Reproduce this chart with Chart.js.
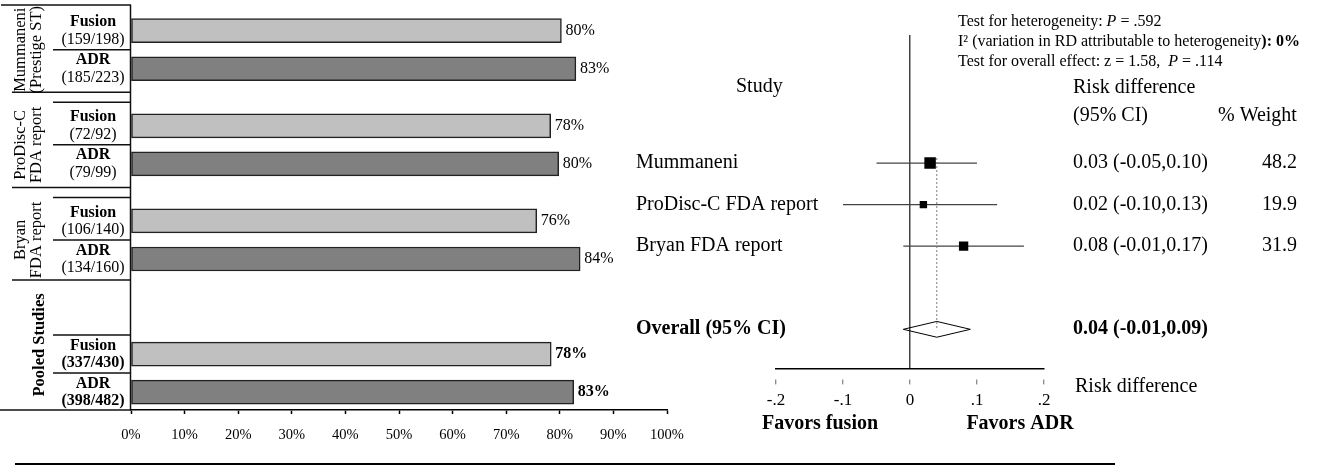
<!DOCTYPE html>
<html>
<head>
<meta charset="utf-8">
<script src="https://cdn.jsdelivr.net/npm/chart.js@4.4.1/dist/chart.umd.min.js"></script>
<style>
  html, body { margin: 0; padding: 0; background: #fff; }
  #wrap { position: relative; width: 1329px; height: 466px; overflow: hidden; }
  #left { position: absolute; left: 0; top: 0; }
  #right { position: absolute; left: 620px; top: 0; }
  #rule { position: absolute; left: 15px; top: 463px; width: 1100px; height: 2px; background: #000; }
</style>
</head>
<body>
<div id="wrap">
  <canvas id="left" width="700" height="466" style="width:700px;height:466px"></canvas>
  <canvas id="right" width="709" height="466" style="width:709px;height:466px"></canvas>
  <div id="rule"></div>
</div>
<script>
// ====== DATA: success rates ======
const groupLines = [["Mummaneni", "(Prestige ST)"], ["ProDisc-C", "FDA report"], ["Bryan", "FDA report"], ["Pooled Studies"]];
const fusionCounts = ["159/198", "72/92", "106/140", "337/430"];
const adrCounts = ["185/223", "79/99", "134/160", "398/482"];
const fusionPct = [80.3, 78.3, 75.7, 78.4];
const adrPct = [83.0, 79.8, 83.8, 82.6];
const pctTicks = [0, 10, 20, 30, 40, 50, 60, 70, 80, 90, 100];

// ====== DATA: forest plot ======
const studyNames = ["Mummaneni", "ProDisc-C FDA report", "Bryan FDA report"];
const rdEst = [0.03, 0.02, 0.08];
const rdLow = [-0.05, -0.10, -0.01];
const rdHigh = [0.10, 0.13, 0.17];
const weights = [48.2, 19.9, 31.9];
const overallRD = [0.04, -0.01, 0.09]; // estimate, low, high
const rdTicks = [-0.2, -0.1, 0, 0.1, 0.2];
const rdTickLabels = ["-.2", "-.1", "0", ".1", ".2"];

// ====== HELPERS ======
const SERIF = "'Liberation Serif', 'Times New Roman', serif";
const font = (size, style) => `${style || ""} ${size}px ${SERIF}`;
const lastGroup = groupLines.length - 1;
// row slot on the left chart: two rows per study, half-row gap, extra gap before pooled
const rowPos = (g, r) => g * 2.5 + r + (g === lastGroup ? 1 : 0);
const fmt = v => v.toFixed(2);

function drawRuns(ctx, x, y, runs, size) {
  runs.forEach(([text, style]) => {
    ctx.font = font(size, style);
    ctx.fillText(text, x, y);
    x += ctx.measureText(text).width;
  });
}

// ====== LEFT: label table + value labels ======
const labelBox = {
  id: "labelBox",
  afterDraw(chart) {
    const { ctx, chartArea: ca, scales: { y } } = chart;
    const L = ca.left, colX = 53, outerX = 12;
    const py = v => y.getPixelForValue(v);
    const half = (py(1) - py(0)) / 2;
    ctx.save();
    ctx.strokeStyle = "#111";
    ctx.lineWidth = 1.5;
    const hline = (yy, x0, x1) => { ctx.beginPath(); ctx.moveTo(x0, yy); ctx.lineTo(x1, yy); ctx.stroke(); };
    ctx.beginPath(); ctx.moveTo(L - 0.5, ca.top); ctx.lineTo(L - 0.5, ca.bottom); ctx.stroke();
    hline(ca.top, 1, L);
    hline(ca.bottom, 0, L);

    ctx.fillStyle = "#000";
    ctx.textAlign = "center";
    ctx.textBaseline = "middle";
    groupLines.forEach((lines, g) => {
      const y0 = py(rowPos(g, 0)), y1 = py(rowPos(g, 1));
      const pooled = g === lastGroup;
      hline((y0 + y1) / 2, colX, L);
      if (g < lastGroup - 1) {
        const mid = (y1 + py(rowPos(g + 1, 0))) / 2;
        hline(mid - 5, outerX, L);
        hline(mid + 5, colX, L);
      } else if (g === lastGroup - 1) {
        hline(y1 + half * 1.1, outerX, L);
      } else {
        hline(y0 - half, colX, L);
      }
      // row labels
      const cx = (colX + L) / 2 + 1;
      [["Fusion", fusionCounts[g], y0], ["ADR", adrCounts[g], y1]].forEach(([name, n, yc]) => {
        ctx.font = font(16, "bold");
        ctx.fillText(name, cx, yc - 8.5);
        ctx.font = font(16, pooled ? "bold" : "");
        ctx.fillText("(" + n + ")", cx, yc + 9);
      });
      // rotated study label
      const gc = pooled ? (py(rowPos(g - 1, 1)) + half * 1.1 + ca.bottom) / 2 : (y0 + y1) / 2;
      const xs = lines.length === 2 ? [21, 37] : [40];
      lines.forEach((t, i) => {
        ctx.save();
        ctx.translate(xs[i], gc);
        ctx.rotate(-Math.PI / 2);
        ctx.font = font(16.5, pooled ? "bold" : "");
        ctx.fillText(t, 0, 0);
        ctx.restore();
      });
    });
    ctx.restore();
  }
};

const pctLabels = {
  id: "pctLabels",
  afterDatasetsDraw(chart) {
    const ctx = chart.ctx;
    ctx.save();
    ctx.fillStyle = "#000";
    ctx.textAlign = "left";
    ctx.textBaseline = "middle";
    chart.data.datasets.forEach((ds, di) => {
      chart.getDatasetMeta(di).data.forEach((bar, i) => {
        ctx.font = font(16, i === lastGroup ? "bold" : "");
        ctx.fillText(Math.round(ds.data[i].x) + "%", bar.x + 4, bar.y);
      });
    });
    ctx.restore();
  }
};

new Chart(document.getElementById("left"), {
  type: "bar",
  data: {
    datasets: [
      { label: "Fusion", data: fusionPct.map((v, g) => ({ x: v, y: rowPos(g, 0) })),
        backgroundColor: "#c0c0c0", borderColor: "#222", borderWidth: 1.5, borderSkipped: false, barThickness: 24, grouped: false },
      { label: "ADR", data: adrPct.map((v, g) => ({ x: v, y: rowPos(g, 1) })),
        backgroundColor: "#808080", borderColor: "#222", borderWidth: 1.5, borderSkipped: false, barThickness: 24, grouped: false }
    ]
  },
  options: {
    indexAxis: "y",
    responsive: false,
    animation: false,
    devicePixelRatio: 1,
    layout: { padding: { left: 131, right: 33, top: 5, bottom: 10.6 } },
    plugins: { legend: { display: false }, tooltip: { enabled: false } },
    scales: {
      x: {
        type: "linear", min: 0, max: 100,
        afterBuildTicks: s => { s.ticks = pctTicks.map(v => ({ value: v })); },
        ticks: { callback: v => v + "%", font: { family: SERIF, size: 14.5 }, color: "#000", padding: 12, maxRotation: 0 },
        grid: { drawOnChartArea: false, drawTicks: true, tickLength: 4, tickColor: "#000", tickWidth: 1.5 },
        border: { display: true, color: "#000", width: 1.5 }
      },
      y: { type: "linear", reverse: true, offset: false, min: -0.675, max: 9.97, display: false }
    }
  },
  plugins: [labelBox, pctLabels]
});

// ====== RIGHT: forest plot ======
const overallRow = studyNames.length + 1;
const dh = 0.19; // diamond half height in rows

const forestText = {
  id: "forestText",
  afterDraw(chart) {
    const { ctx, scales: { y } } = chart;
    const py = v => y.getPixelForValue(v);
    const colVal = 453, colW = 642, colName = 16;
    ctx.save();
    ctx.fillStyle = "#000";
    ctx.textAlign = "left";
    ctx.textBaseline = "middle";
    // heterogeneity notes
    drawRuns(ctx, 338, 22, [["Test for heterogeneity: ", ""], ["P", "italic"], [" = .592", ""]], 16);
    drawRuns(ctx, 338, 42, [["I\u00B2 (variation in RD attributable to heterogeneity", ""], ["): 0%", "bold"]], 16);
    drawRuns(ctx, 338, 62, [["Test for overall effect: z = 1.58,  ", ""], ["P", "italic"], [" = .114", ""]], 16);
    // headers
    ctx.font = font(20);
    ctx.fillText("Study", 116, 87);
    ctx.fillText("Risk difference", colVal, 88);
    ctx.fillText("(95% CI)", colVal, 116);
    ctx.fillText("% Weight", 598, 116);
    // study rows
    studyNames.forEach((n, i) => {
      ctx.font = font(20);
      ctx.fillText(n, colName, py(i));
      ctx.fillText(`${fmt(rdEst[i])} (${fmt(rdLow[i])},${fmt(rdHigh[i])})`, colVal, py(i));
      ctx.fillText(weights[i].toFixed(1), colW, py(i));
    });
    ctx.font = font(20, "bold");
    ctx.fillText("Overall (95% CI)", colName, py(overallRow));
    ctx.fillText(`${fmt(overallRD[0])} (${fmt(overallRD[1])},${fmt(overallRD[2])})`, colVal, py(overallRow));
    // axis captions
    ctx.font = font(20);
    ctx.fillText("Risk difference", 455, 387);
    ctx.font = font(20, "bold");
    ctx.textAlign = "center";
    ctx.fillText("Favors fusion", 200, 424);
    ctx.fillText("Favors ADR", 400, 424);
    ctx.restore();
  }
};

const ciLines = studyNames.map((n, i) => ({
  type: "line", label: n, order: 2,
  data: [{ x: rdLow[i], y: i }, { x: rdHigh[i], y: i }],
  borderColor: "#444", borderWidth: 1.2, pointRadius: 0
}));

new Chart(document.getElementById("right"), {
  type: "scatter",
  data: {
    datasets: [
      { label: "Estimate", order: 0,
        data: rdEst.map((v, i) => ({ x: v, y: i })),
        pointStyle: "rect", pointRadius: weights.map(w => 1.17 * Math.sqrt(w)),
        backgroundColor: "#000", borderColor: "#000", borderWidth: 0 },
      ...ciLines,
      { type: "line", label: "Pooled", order: 1,
        data: [{ x: overallRD[0], y: -0.12 }, { x: overallRD[0], y: overallRow }],
        borderColor: "#777", borderWidth: 1, borderDash: [2, 2], pointRadius: 0 },
      { type: "line", label: "Overall", order: 1,
        data: [
          { x: overallRD[1], y: overallRow }, { x: overallRD[0], y: overallRow - dh },
          { x: overallRD[2], y: overallRow }, { x: overallRD[0], y: overallRow + dh },
          { x: overallRD[1], y: overallRow }
        ],
        borderColor: "#000", borderWidth: 1, pointRadius: 0, fill: false, tension: 0 }
    ]
  },
  options: {
    responsive: false,
    animation: false,
    devicePixelRatio: 1,
    layout: { padding: { left: 156, right: 285, top: 35, bottom: 49.2 } },
    plugins: { legend: { display: false }, tooltip: { enabled: false } },
    scales: {
      x: {
        type: "linear", min: -0.2, max: 0.2,
        afterBuildTicks: s => { s.ticks = rdTicks.map(v => ({ value: v })); },
        ticks: { callback: (v, i) => rdTickLabels[i], font: { family: SERIF, size: 17 }, color: "#000", padding: 6, maxRotation: 0 },
        grid: {
          drawOnChartArea: true,
          color: c => (c.tick && c.tick.value === 0 ? "#444" : "rgba(0,0,0,0)"),
          lineWidth: 1.5,
          drawTicks: true, tickLength: 16, tickColor: "#666", tickWidth: 1,
          tickBorderDash: [0, 10, 6, 100]
        },
        border: { display: true, color: "#000", width: 1.5 }
      },
      y: { type: "linear", reverse: true, min: -3.08, max: 4.94, display: false }
    }
  },
  plugins: [forestText]
});
</script>
</body>
</html>
